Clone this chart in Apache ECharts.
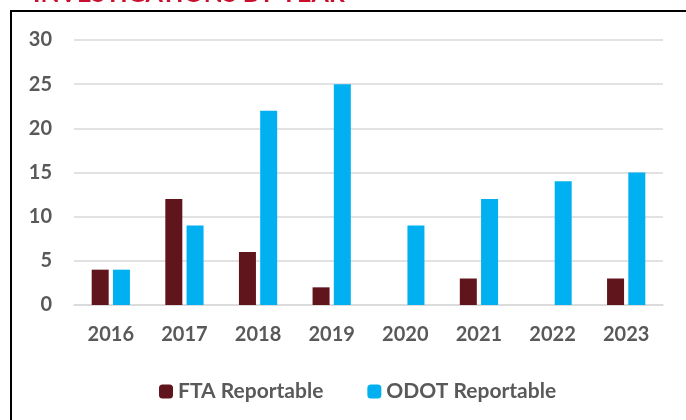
<!DOCTYPE html>
<html><head><meta charset="utf-8">
<script src="https://cdn.jsdelivr.net/npm/echarts@6/dist/echarts.min.js"></script>
<style>html,body{margin:0;padding:0;background:#fff}#c{width:686px;height:420px}</style>
</head><body><div id="c"></div>
<script>
const categories = ['2016','2017','2018','2019','2020','2021','2022','2023'];
const ftaValues = [4, 12, 6, 2, 0, 3, 0, 3];
const odotValues = [4, 9, 22, 25, 9, 12, 14, 15];
const seriesNames = ['FTA Reportable', 'ODOT Reportable'];
const titleText = 'INVESTIGATIONS BY YEAR';

const chart = echarts.init(document.getElementById('c'));
const font = 'Lato, "Open Sans", sans-serif';
chart.setOption({
  animation: false,
  graphic: [
    { type: 'text', left: 33, top: -19, style: { text: titleText, fill: '#C8102E', font: 'bold 25px ' + font } },
    { type: 'rect', shape: { x: 11, y: 11, width: 700, height: 420 }, style: { fill: 'none', stroke: '#000', lineWidth: 2 } }
  ],
  grid: { left: 74, right: 23, top: 40, bottom: 115 },
  legend: {
    top: 376, left: 154, itemWidth: 14, itemHeight: 14, itemGap: 44,
    textStyle: { color: '#595959', fontWeight: 'bold', fontSize: 21, fontFamily: font },
    data: seriesNames
  },
  xAxis: {
    type: 'category', data: categories,
    axisTick: { show: false },
    axisLine: { lineStyle: { color: '#d9d9d9', width: 1.5 } },
    axisLabel: { color: '#595959', fontWeight: 'bold', fontSize: 20, fontFamily: font, margin: 20 }
  },
  yAxis: {
    type: 'value', min: 0, max: 30, interval: 5,
    axisLine: { show: false }, axisTick: { show: false },
    splitLine: { lineStyle: { color: '#d9d9d9', width: 1.5 } },
    axisLabel: { color: '#595959', fontWeight: 'bold', fontSize: 20, fontFamily: font, margin: 22 }
  },
  series: [
    { name: seriesNames[0], type: 'bar', data: ftaValues, barWidth: 17, barGap: '25%', itemStyle: { color: '#60141C' } },
    { name: seriesNames[1], type: 'bar', data: odotValues, barWidth: 17, barGap: '25%', itemStyle: { color: '#00B0F0' } }
  ]
});
</script></body></html>
